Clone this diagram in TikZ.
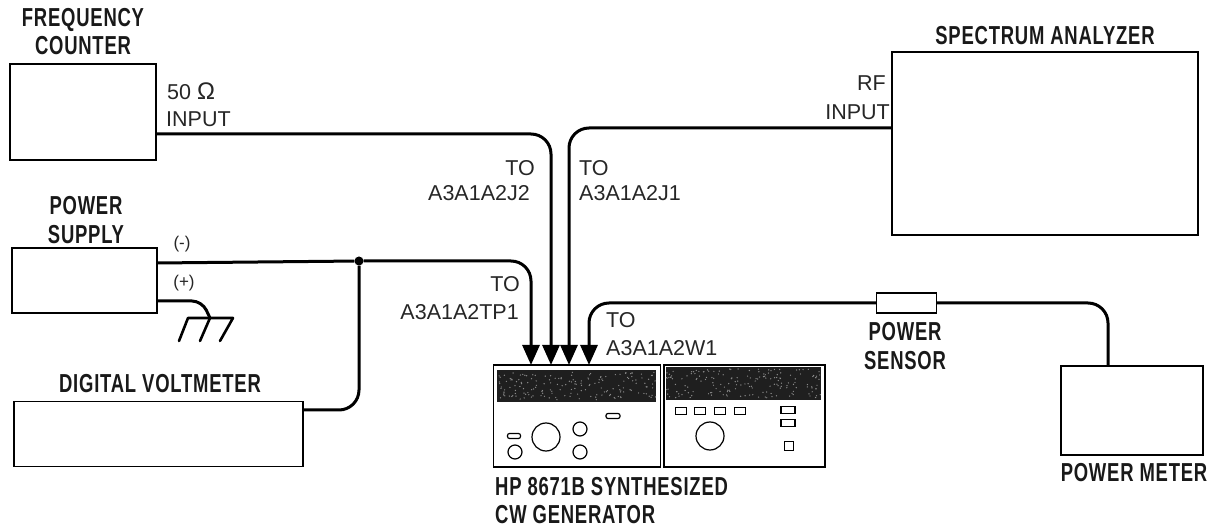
\documentclass[tikz,border=0pt]{standalone}
\usepackage{fontspec}
\usetikzlibrary{arrows.meta}
\setmainfont{Liberation Sans}
\newfontfamily\labfont[FakeStretch=0.71,LetterSpace=3]{Liberation Sans}
\tikzset{
  box/.style={draw=black,line width=1.8pt,fill=white,outer sep=0pt,inner sep=0pt},
  panelbar/.style={fill=black!88,draw=none},
  part/.style={draw=black,line width=1.2pt,outer sep=0pt,inner sep=0pt},
  knob/.style={part,circle},
  wire/.style={draw=black,line width=3pt,rounded corners=20pt},
  feed/.style={wire,-{Triangle[width=17pt,length=20pt]}},
  head/.style={font=\labfont\bfseries\fontsize{26}{28.5}\selectfont,align=center,inner sep=0pt,text=black!90},
  small/.style={font=\fontsize{21.5}{21.5}\selectfont,inner sep=0pt,text=black!85},
  pol/.style={font=\fontsize{17}{17}\selectfont,inner sep=0pt,text=black!85}
}
\begin{document}
\begin{tikzpicture}[x=1pt,y=-1pt]
\useasboundingbox (0,0) rectangle (1219,529);
% boxes
\node[box,minimum width=146pt,minimum height=96pt] (fc) at (83,112) {};
\node[box,minimum width=306pt,minimum height=183pt] (sa) at (1045,143.5) {};
\node[box,minimum width=145pt,minimum height=65pt] (ps) at (84.5,280.5) {};
\node[box,minimum width=289pt,minimum height=65pt] (dvm) at (158.5,434) {};
\node[box,minimum width=142pt,minimum height=89pt] (pm) at (1132,410.5) {};
\node[box,minimum width=60pt,minimum height=20pt] (ser) at (906.5,303) {};
% generator
\node[box,minimum width=167pt,minimum height=102pt] (genl) at (577,416) {};
\node[box,minimum width=161pt,minimum height=102pt] (genr) at (744.5,416) {};
\fill[panelbar] (497,370) rectangle (656,402);
\fill[panelbar] (666,367) rectangle (821,400);
\pgfmathsetseed{8671}
\foreach \i in {1,...,170}{
  \pgfmathsetmacro{\px}{497+159*rnd}
  \pgfmathsetmacro{\py}{372+28*rnd}
  \fill[black!45] (\px,\py) circle (0.7pt);
  \pgfmathsetmacro{\qx}{666+155*rnd}
  \pgfmathsetmacro{\qy}{369+29*rnd}
  \fill[black!45] (\qx,\qy) circle (0.7pt);
}
\node[knob,minimum size=28pt] (k1) at (546,437) {};
\node[knob,minimum size=14pt] (k2) at (580,429) {};
\node[knob,minimum size=14pt] (k3) at (580,452) {};
\node[knob,minimum size=14pt] (k4) at (515,452) {};
\node[part,rounded corners=2pt,minimum width=13pt,minimum height=5pt] (s1) at (514,436) {};
\node[part,rounded corners=2pt,minimum width=14pt,minimum height=5pt] (s2) at (613,416) {};
\node[knob,minimum size=28pt] (k5) at (710,436) {};
\node[part,minimum width=11pt,minimum height=7pt] (b1) at (681,411) {};
\node[part,minimum width=11pt,minimum height=7pt] (b2) at (700,411) {};
\node[part,minimum width=11pt,minimum height=7pt] (b3) at (720,411) {};
\node[part,minimum width=11pt,minimum height=7pt] (b4) at (740,411) {};
\node[part,minimum width=14pt,minimum height=7pt] (b5) at (788,410) {};
\node[part,minimum width=14pt,minimum height=7pt] (b6) at (788,423) {};
\node[part,minimum width=9pt,minimum height=9pt] (b7) at (789,446) {};
% target points
\coordinate (tp1) at (531,365);
\coordinate (j2) at (551,365);
\coordinate (j1) at (569,365);
\coordinate (w1) at (589,365);
\node[circle,fill=black,inner sep=0pt,minimum size=9pt] (jn) at (359,261) {};
% connectors
\draw[feed] ([yshift=-22pt]fc.east) -| (j2);
\draw[feed] ([yshift=15.5pt]sa.west) -| (j1);
\draw[wire,rounded corners=0pt] ([yshift=17.5pt]ps.east) -- (jn);
\draw[feed] (jn) -| (tp1);
\draw[wire] ([yshift=24pt]dvm.east) -| (jn);
\draw[feed] (ser.west) -| (w1);
\draw[wire] (ser.east) -| (1108,366);
% ground
\coordinate (gnd) at (210,318);
\coordinate (ga) at (188,318);
\coordinate (gb) at (233,318);
\coordinate (ga2) at (179,341);
\coordinate (gm2) at (200,341);
\coordinate (gb2) at (220,341);
\draw[wire,rounded corners=10pt] ([yshift=-20.5pt]ps.east) -- (202,301) -- (gnd);
\draw[line width=2.6pt,line cap=round,line join=round] (ga2) -- (ga) -- (gb) -- (gb2);
\draw[line width=2.6pt,line cap=round] (gnd) -- (gm2);
% headings
\node[head] (t1) at (83,31.5) {FREQUENCY\\COUNTER};
\node[head] (t2) at (86,220) {POWER\\SUPPLY};
\node[head] (t3) at (160,384) {DIGITAL VOLTMETER};
\node[head] (t4) at (1045,36) {SPECTRUM ANALYZER};
\node[head] (t5) at (905,346) {POWER\\SENSOR};
\node[head] (t6) at (1134,473) {POWER METER};
\node[head,anchor=base west,align=left] (t7) at (495,495) {HP 8671B SYNTHESIZED};
\node[head,anchor=base west,align=left] (t8) at (495,523) {CW GENERATOR};
% small labels
\node[small,anchor=base west] (l1) at (167,100) {50 \fontsize{24}{24}\selectfont Ω};
\node[small,anchor=base west] (l2) at (166,127) {INPUT};
\node[small,anchor=base east] (l3) at (535,176) {TO};
\node[small,anchor=base east] (l4) at (530,201) {A3A1A2J2};
\node[small,anchor=base west] (l5) at (579,176) {TO};
\node[small,anchor=base west] (l6) at (579,201) {A3A1A2J1};
\node[small,anchor=base east] (l7) at (520,292) {TO};
\node[small,anchor=base east] (l8) at (519,320) {A3A1A2TP1};
\node[small,anchor=base west] (l9) at (606,328) {TO};
\node[small,anchor=base west] (l10) at (606,356) {A3A1A2W1};
\node[small,anchor=base east] (l11) at (886,91) {RF};
\node[small,anchor=base east] (l12) at (890,120) {INPUT};
\node[pol] (l13) at (182,244) {(-)};
\node[pol] (l14) at (184,283) {(+)};
\end{tikzpicture}
\end{document}
